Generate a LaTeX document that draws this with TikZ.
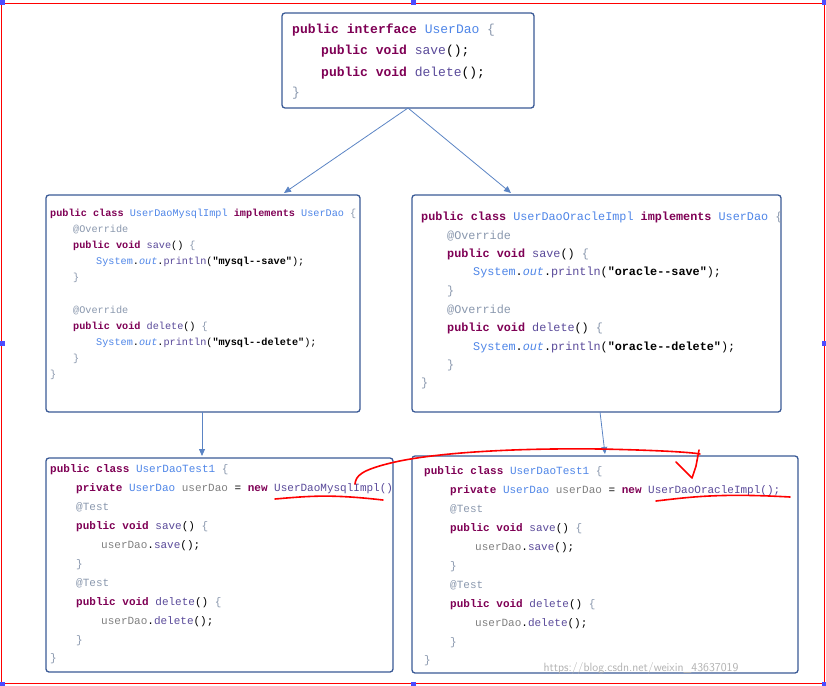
\documentclass[tikz,border=0pt]{standalone}
\usepackage{fontspec}
\setmonofont{Liberation Mono}
\usetikzlibrary{arrows.meta}
\definecolor{kwc}{HTML}{7F0055}
\definecolor{tyc}{HTML}{4F86E8}
\definecolor{anc}{HTML}{8A98AE}
\definecolor{boxc}{HTML}{3A5A96}
\definecolor{arc}{HTML}{5B84C4}
\definecolor{mtc}{HTML}{5A4A9A}
\newcommand\kw[1]{\textcolor{kwc}{\textbf{#1}}}
\newcommand\ty[1]{\textcolor{tyc}{#1}}
\newcommand\an[1]{\textcolor{anc}{#1}}
\newcommand\mt[1]{\textcolor{mtc}{#1}}
\newcommand\gr[1]{\textcolor{gray}{#1}}
\newcommand\cl[3]{\node[anchor=base west,inner sep=0] at (#1,#2) {#3};}
\begin{document}
\begin{tikzpicture}[x=1pt,y=-1pt,
  box/.style={draw=boxc,line width=1.3pt,rounded corners=3pt,fill=white},
  conn/.style={draw=arc,line width=0.8pt,-{Triangle[length=7pt,width=6pt]}},
  redm/.style={draw=red,line width=1.6pt,line cap=round,line join=round},
  f1/.style={font=\ttfamily\fontsize{13}{15}\selectfont},
  f2/.style={font=\ttfamily\fontsize{10.2}{12}\selectfont},
  f3/.style={font=\ttfamily\fontsize{11.8}{14}\selectfont},
  f4/.style={font=\ttfamily\fontsize{11}{13}\selectfont}]
\useasboundingbox (0,0) rectangle (826,685);
\draw[red,line width=0.8pt] (1.5,3.5) rectangle (824.5,683.5);
\foreach \p in {(2,3),(413,3),(824,3),(2,343),(824,343),(2,684),(413,684),(824,684)}
  \fill[blue!70] \p ++(-2.5,-2.5) rectangle ++(5,5);
% boxes
\draw[box] (282,13) rectangle (534,108); \coordinate (iface) at (408,108);
\node (ib) at (408,60) {};
\draw[box] (46,195) rectangle (360,412);
\draw[box] (412,195) rectangle (781,412);
\draw[box] (46,458) rectangle (393,672);
\draw[box] (412,456) rectangle (798,673);
\coordinate (mt) at (284,193); \coordinate (ot) at (511,193);
\coordinate (mb) at (202,412); \coordinate (tl) at (202,456);
\coordinate (ob) at (600,412); \coordinate (tr) at (605,454);
\draw[conn] (iface) -- (mt);
\draw[conn] (iface) -- (ot);
\draw[conn] (mb) -- (tl);
\draw[conn] (ob) -- (tr);
% interface
\begin{scope}[f1]
\cl{292}{34}{\kw{public interface} \ty{UserDao} \an{\{}}
\cl{321}{55}{\kw{public void} \mt{save}();}
\cl{321}{76}{\kw{public void} \mt{delete}();}
\cl{292}{96}{\an{\}}}
\end{scope}
% mysql
\begin{scope}[f2]
\cl{50}{216}{\kw{public class} \ty{UserDaoMysqlImpl} \kw{implements} \ty{UserDao} \an{\{}}
\cl{73}{232}{\an{@Override}}
\cl{73}{248}{\kw{public void} \mt{save}() \an{\{}}
\cl{96}{264}{\ty{System}.\ty{\textit{out}}.\mt{println}(\textbf{"mysql--save"});}
\cl{73}{280}{\an{\}}}
\cl{73}{313}{\an{@Override}}
\cl{73}{329}{\kw{public void} \mt{delete}() \an{\{}}
\cl{96}{345}{\ty{System}.\ty{\textit{out}}.\mt{println}(\textbf{"mysql--delete"});}
\cl{73}{361}{\an{\}}}
\cl{50}{377}{\an{\}}}
\end{scope}
% oracle
\begin{scope}[f3]
\cl{421}{220}{\kw{public class} \ty{UserDaoOracleImpl} \kw{implements} \ty{UserDao} \an{\{}}
\cl{447}{239}{\an{@Override}}
\cl{447}{257}{\kw{public void} \mt{save}() \an{\{}}
\cl{473}{275}{\ty{System}.\ty{\textit{out}}.\mt{println}(\textbf{"oracle--save"});}
\cl{447}{294}{\an{\}}}
\cl{447}{313}{\an{@Override}}
\cl{447}{331}{\kw{public void} \mt{delete}() \an{\{}}
\cl{473}{350}{\ty{System}.\ty{\textit{out}}.\mt{println}(\textbf{"oracle--delete"});}
\cl{447}{368}{\an{\}}}
\cl{421}{386}{\an{\}}}
\end{scope}
% tests
\begin{scope}[f4]
\foreach \X/\Y/\impl in {50/472/UserDaoMysqlImpl(),424/474/UserDaoOracleImpl();}{
\pgfmathsetmacro\Xa{\X+26}\pgfmathsetmacro\Xb{\X+51}
\cl{\X}{\Y}{\kw{public class} \ty{UserDaoTest1} \an{\{}}
\cl{\Xa}{\Y+19}{\kw{private} \ty{UserDao} \gr{userDao} = \kw{new} \mt{\impl}}
\cl{\Xa}{\Y+38}{\an{@Test}}
\cl{\Xa}{\Y+57}{\kw{public void} \mt{save}() \an{\{}}
\cl{\Xb}{\Y+76}{\gr{userDao}.\mt{save}();}
\cl{\Xa}{\Y+95}{\an{\}}}
\cl{\Xa}{\Y+114}{\an{@Test}}
\cl{\Xa}{\Y+133}{\kw{public void} \mt{delete}() \an{\{}}
\cl{\Xb}{\Y+152}{\gr{userDao}.\mt{delete}();}
\cl{\Xa}{\Y+171}{\an{\}}}
\cl{\X}{\Y+189}{\an{\}}}
}
\end{scope}
% red marks
\draw[redm] (275,499) .. controls (310,496) and (330,494) .. (383,500);
\draw[redm] (355,484) .. controls (356,476) and (360,470) .. (395,462) .. controls (440,452) and (520,448) .. (600,449) .. controls (650,450) and (690,452) .. (700,454);
\draw[redm] (676,462) -- (692,478) -- (696,466) -- (699,450);
\draw[redm] (656,501) .. controls (690,497) and (720,493) .. (790,497);
\node[anchor=base west,text=gray!60,font=\sffamily\fontsize{12}{14}\selectfont] at (540,671) {https://blog.csdn.net/weixin\_43637019};
\end{tikzpicture}
\end{document}
